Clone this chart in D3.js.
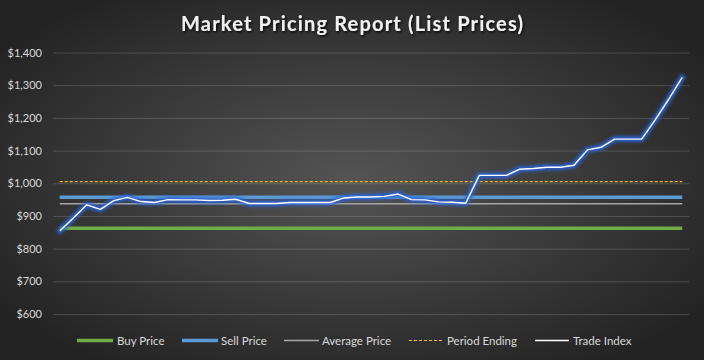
<!DOCTYPE html>
<html>
<head>
<meta charset="utf-8">
<script src="https://cdn.jsdelivr.net/npm/d3@7"></script>
<style>
  html, body { margin: 0; padding: 0; background: #262626; }
  svg { display: block; }
</style>
</head>
<body>
<svg id="chart" width="704" height="360"></svg>
<script>
// ---------------- DATA ----------------
const chartTitle = "Market Pricing Report (List Prices)";
const tradeIndex = [
  854, 894, 934, 920, 947, 957, 944, 941, 950, 949,
  949, 947, 948, 951, 938, 938, 938, 941, 941, 941,
  941, 955, 958, 958, 960, 967, 950, 949, 943, 942,
  939, 1024, 1024, 1024, 1043, 1045, 1049, 1049, 1055, 1102,
  1110, 1135, 1135, 1135, 1194, 1257, 1324
];
const categories = tradeIndex.map((_, i) => i + 1);
const buyPrice = 862;
const sellPrice = 957;
const averagePrice = 937;
const periodEnding = 1005;
const yTicks = [600, 700, 800, 900, 1000, 1100, 1200, 1300, 1400];
const legendLabels = ["Buy Price", "Sell Price", "Average Price", "Period Ending", "Trade Index"];

// ---------------- LAYOUT ----------------
const W = 704, H = 360;
const plot = { left: 53, right: 689, top: 52.5, bottom: 314 };
const svg = d3.select("#chart");
const defs = svg.append("defs");

const bg = defs.append("radialGradient").attr("id", "bg")
  .attr("cx", "50%").attr("cy", "50%").attr("r", "62%");
bg.append("stop").attr("offset", "0%").attr("stop-color", "#545454");
bg.append("stop").attr("offset", "100%").attr("stop-color", "#232323");

const glow = defs.append("filter").attr("id", "glow")
  .attr("x", "-10%").attr("y", "-10%").attr("width", "120%").attr("height", "120%");
glow.append("feGaussianBlur").attr("stdDeviation", 1.8);

const shadow = defs.append("filter").attr("id", "tshadow")
  .attr("x", "-10%").attr("y", "-30%").attr("width", "120%").attr("height", "160%");
shadow.append("feDropShadow").attr("dx", 1.2).attr("dy", 1.5)
  .attr("stdDeviation", 1).attr("flood-color", "#000").attr("flood-opacity", 0.85);

svg.append("rect").attr("width", W).attr("height", H).attr("fill", "url(#bg)");

const x = d3.scalePoint().domain(categories).range([plot.left, plot.right]).padding(0.5);
const y = d3.scaleLinear().domain([600, 1400]).range([plot.bottom, plot.top]);

// Title
svg.append("text")
  .attr("x", 352).attr("y", 30.5)
  .attr("text-anchor", "middle")
  .attr("font-family", "Lato, 'Open Sans', sans-serif")
  .attr("font-weight", "bold")
  .attr("font-size", 20)
  .attr("fill", "#f2f2f2")
  .attr("textLength", 342).attr("lengthAdjust", "spacing")
  .attr("filter", "url(#tshadow)")
  .text(chartTitle);

// Gridlines + y axis
const yAxis = d3.axisLeft(y).tickValues(yTicks)
  .tickSize(-(plot.right - plot.left))
  .tickPadding(11)
  .tickFormat(d => "$" + d3.format(",")(d));
const gy = svg.append("g").attr("transform", `translate(${plot.left},0)`).call(yAxis);
gy.select(".domain").remove();
gy.selectAll(".tick line").attr("stroke", "#ffffff").attr("stroke-opacity", 0.16).attr("stroke-width", 1);
gy.selectAll(".tick text")
  .attr("fill", "#d9d9d9")
  .attr("font-family", "Lato, 'Open Sans', sans-serif")
  .attr("font-size", 11);

const first = categories[0], last = categories[categories.length - 1];
const flat = v => d3.line().x(d => x(d)).y(() => y(v))([first, last]);

// Buy Price
svg.append("path").attr("d", flat(buyPrice)).attr("fill", "none")
  .attr("stroke", "#70ad47").attr("stroke-width", 3.5);
// Sell Price
svg.append("path").attr("d", flat(sellPrice)).attr("fill", "none")
  .attr("stroke", "#5b9bd5").attr("stroke-width", 3.5);
// Average Price
svg.append("path").attr("d", flat(averagePrice)).attr("fill", "none")
  .attr("stroke", "#a6a6a6").attr("stroke-width", 1.5);
// Period Ending
svg.append("path").attr("d", flat(periodEnding)).attr("fill", "none")
  .attr("stroke", "#ffc000").attr("stroke-width", 1.1).attr("stroke-dasharray", "3,2");

// Trade Index with glow
const tradeLine = d3.line().x((d, i) => x(categories[i])).y(d => y(d));
svg.append("path").attr("d", tradeLine(tradeIndex)).attr("fill", "none")
  .attr("stroke", "#2a62d6").attr("stroke-width", 6).attr("stroke-opacity", 0.9)
  .attr("stroke-linejoin", "round").attr("stroke-linecap", "round")
  .attr("filter", "url(#glow)");
svg.append("path").attr("d", tradeLine(tradeIndex)).attr("fill", "none")
  .attr("stroke", "#ffffff").attr("stroke-width", 1.4).attr("stroke-linejoin", "round");

// Legend
const legendItems = [
  { label: legendLabels[0], x0: 77, x1: 113, tx: 117, color: "#70ad47", w: 3.5, dash: null },
  { label: legendLabels[1], x0: 182, x1: 218, tx: 221, color: "#5b9bd5", w: 3.5, dash: null },
  { label: legendLabels[2], x0: 284, x1: 319, tx: 322, color: "#a6a6a6", w: 1.5, dash: null },
  { label: legendLabels[3], x0: 409, x1: 444, tx: 447, color: "#ffc000", w: 1.1, dash: "3,2" },
  { label: legendLabels[4], x0: 535, x1: 569, tx: 573, color: "#ffffff", w: 1.4, dash: null }
];
const ly = 340.5;
const lg = svg.append("g");
legendItems.forEach(it => {
  lg.append("line").attr("x1", it.x0).attr("x2", it.x1).attr("y1", ly).attr("y2", ly)
    .attr("stroke", it.color).attr("stroke-width", it.w)
    .attr("stroke-dasharray", it.dash);
  lg.append("text").attr("x", it.tx).attr("y", ly).attr("dy", "0.35em")
    .attr("fill", "#d9d9d9")
    .attr("font-family", "Lato, 'Open Sans', sans-serif")
    .attr("font-size", 11.5)
    .text(it.label);
});
</script>
</body>
</html>
